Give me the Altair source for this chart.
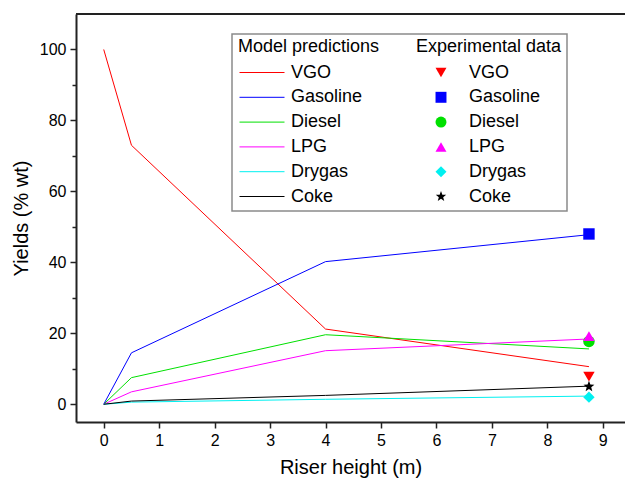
import math
import altair as alt
import pandas as pd

heights = [0, 0.5, 4, 8.75]
series = ["VGO", "Gasoline", "Diesel", "LPG", "Drygas", "Coke"]
model_vgo = [100, 73, 21.2, 10.6]
model_gasoline = [0, 14.5, 40.2, 47.8]
model_diesel = [0, 7.5, 19.6, 15.6]
model_lpg = [0, 3.5, 15.1, 18.4]
model_drygas = [0, 0.6, 1.4, 2.3]
model_coke = [0, 0.9, 2.5, 5.1]

exp_height = 8.75
exp_values = [7.8, 48.0, 17.7, 19.2, 2.0, 5.0]

colors = ["#ff0000", "#0000ff", "#00e000", "#ff00ff", "#00f0f0", "#000000"]

# five-point star as a custom unit symbol path
pts = []
for i in range(10):
    r = 1.0 if i % 2 == 0 else 0.42
    a = -math.pi / 2 + i * math.pi / 5
    pts.append(f"{r * math.cos(a):.3f},{r * math.sin(a):.3f}")
STAR = "M" + "L".join(pts) + "Z"
shapes = ["triangle-down", "square", "circle", "triangle-up", "diamond", STAR]
LINE_SYMBOL = "M-3,0H3"

model_lists = [model_vgo, model_gasoline, model_diesel, model_lpg, model_drygas, model_coke]
rows = []
for name, vals in zip(series, model_lists):
    for h, v in zip(heights, vals):
        rows.append({"Model": name, "h": h, "y": v})
model_df = pd.DataFrame(rows)
exp_df = pd.DataFrame({"Exp": series, "h": [exp_height] * 6, "y": exp_values})

FONT = "Liberation Sans"
LFS = 18

xscale = alt.Scale(domain=[-0.5, 9.4], nice=False, zero=False)
yscale = alt.Scale(domain=[-5, 110], nice=False, zero=False)

xaxis = alt.Axis(
    title="Riser height (m)", values=list(range(0, 10)), grid=False,
    domainWidth=2, domainColor="#222", tickColor="#222", tickWidth=1.5, tickSize=6,
    labelFontSize=16, labelFont=FONT, labelColor="black", labelPadding=4,
    titleFontSize=20, titleFont=FONT, titleFontWeight="normal", titleColor="black",
    titlePadding=9)

yaxis = alt.Axis(
    title="Yields (% wt)", values=list(range(0, 101, 10)),
    labelExpr="datum.value % 20 == 0 ? datum.label : ''",
    tickSize={"condition": {"test": "datum.value % 20 == 0", "value": 6}, "value": 4},
    grid=False, domainWidth=2, domainColor="#222", tickColor="#222", tickWidth=1.5,
    labelFontSize=16, labelFont=FONT, labelColor="black", labelPadding=4,
    titleFontSize=20, titleFont=FONT, titleFontWeight="normal", titleColor="black",
    titlePadding=8,
)

top_border = alt.Chart(alt.Data(values=[{}])).mark_rule(
    color="#222", strokeWidth=2
).encode(x=alt.value(0), x2=alt.value(549), y=alt.value(0))

box = alt.Chart(alt.Data(values=[{}])).mark_rect(
    fill="white", stroke="#8a8a8a", strokeWidth=1.5
).encode(x=alt.value(156), x2=alt.value(491), y=alt.value(20), y2=alt.value(197))

lines = alt.Chart(model_df).mark_line(strokeWidth=1).encode(
    x=alt.X("h:Q", scale=xscale, axis=xaxis),
    y=alt.Y("y:Q", scale=yscale, axis=yaxis),
    color=alt.Color("Model:N", scale=alt.Scale(domain=series, range=colors),
                    sort=series,
                    legend=alt.Legend(
                        title="Model predictions", orient="none", legendX=162, legendY=24,
                        symbolType=LINE_SYMBOL, symbolSize=225, symbolStrokeWidth=1,
                        symbolOffset=15, labelOffset=20, rowPadding=6.8, titlePadding=7.5,
                        padding=0,
                        labelFontSize=LFS, labelFont=FONT, labelColor="black",
                        titleFontSize=LFS, titleFont=FONT, titleFontWeight="normal",
                        titleColor="black")),
)

points = alt.Chart(exp_df).mark_point(filled=True, size=130, opacity=1).encode(
    x=alt.X("h:Q", scale=xscale, axis=xaxis),
    y=alt.Y("y:Q", scale=yscale, axis=yaxis),
    color=alt.Color("Exp:N", scale=alt.Scale(domain=series, range=colors), sort=series,
                    legend=alt.Legend(
                        title="Experimental data", orient="none", legendX=340, legendY=24,
                        symbolSize=120, symbolOffset=16, labelOffset=19,
                        rowPadding=6.8, titlePadding=7.5, padding=0,
                        labelFontSize=LFS, labelFont=FONT, labelColor="black",
                        titleFontSize=LFS, titleFont=FONT, titleFontWeight="normal",
                        titleColor="black")),
    shape=alt.Shape("Exp:N", scale=alt.Scale(domain=series, range=shapes), sort=series),
)

chart = alt.layer(top_border, box, lines, points).resolve_scale(
    color="independent", shape="independent"
).properties(
    width=549, height=408,
    autosize=alt.AutoSizeParams(type="none"),
    padding={"left": 76, "top": 14, "right": 0, "bottom": 62},
    background="white",
).configure_view(stroke=None)

chart.save("out.html", embed_options={"renderer": "svg", "actions": False})
